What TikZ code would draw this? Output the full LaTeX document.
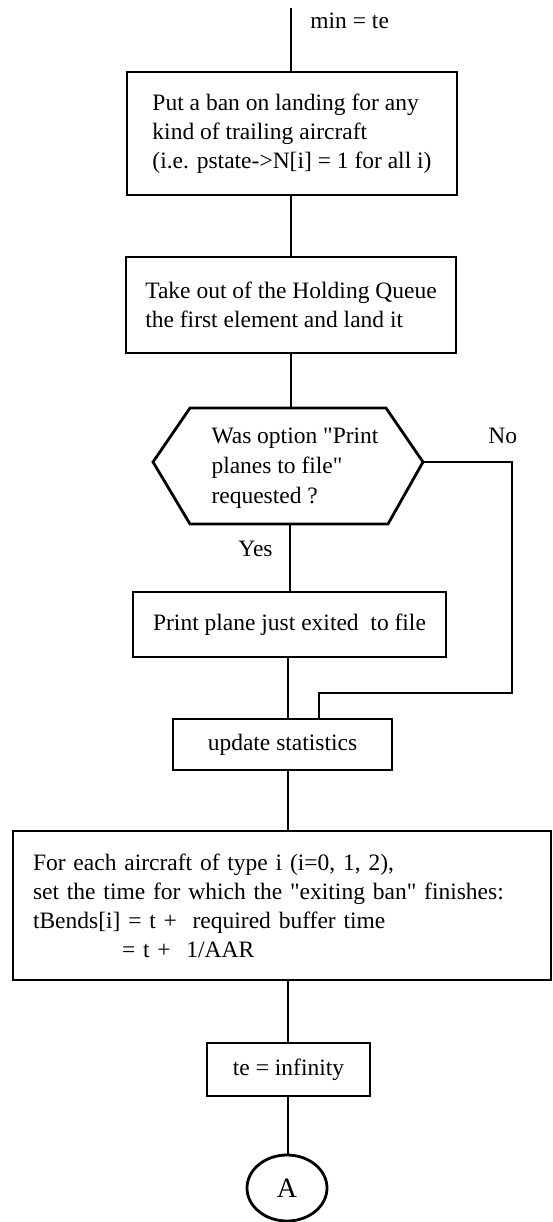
\documentclass[tikz,border=0pt]{standalone}
\usepackage{fontspec}
\setmainfont{Liberation Serif}[Ligatures=TeXOff]
\usetikzlibrary{shapes.geometric}
\begin{document}
\begin{tikzpicture}[x=1pt,y=-1pt,line width=2.8pt,
  box/.style={draw,rectangle,inner sep=0pt,align=left,font=\fontsize{23.5}{29}\selectfont},
  lbl/.style={inner sep=0pt,anchor=base west,font=\fontsize{23.5}{29}\selectfont},
  conn/.style={line width=2.8pt}]
\useasboundingbox (0,0) rectangle (552,1222);
% top
\coordinate (start) at (291,8);
\node[lbl] (mintxt) at (309,29) {min = te};
\node[box,minimum width=330pt,minimum height=123pt] (b1) at (292,133.5)
  {Put a ban on landing for any\\kind of trailing aircraft\\(i.e. pstate->N[i] = 1 for all i)};
\node[box,minimum width=330pt,minimum height=96pt] (b2) at (291,305)
  {Take out of the Holding Queue\\the first element and land it};
% decision hexagon
\coordinate (h1) at (190,408);
\coordinate (h2) at (386,408);
\coordinate (h3) at (423,462);
\coordinate (h4) at (388,524);
\coordinate (h5) at (190,524);
\coordinate (h6) at (153,462);
\draw (h1) -- (h2) -- (h3) -- (h4) -- (h5) -- (h6) -- cycle;
\node[inner sep=0pt,align=left,font=\fontsize{23.5}{30}\selectfont] (q) at (295,468)
  {Was option "Print\\planes to file"\\requested ?};
\node[lbl] (yes) at (237,556) {Yes};
\node[lbl] (no) at (487,443) {No};
\node[box,minimum width=313pt,minimum height=65pt] (b3) at (289.5,624.5)
  {Print plane just exited\ \ to file};
\node[box,minimum width=219pt,minimum height=51pt] (b4) at (282.5,744.5)
  {update statistics};
\node[box,minimum width=538pt,minimum height=149pt,text width=498pt,
  font=\fontsize{23.5}{29}\selectfont] (b5) at (282,905.5)
  {For each aircraft of type i (i=0, 1, 2),\\
   set the time for which the "exiting ban" finishes:\\
   tBends[i] = t +\ \ required buffer time\\
   \hspace*{89pt}= t +\ \ 1/AAR};
\node[box,minimum width=163pt,minimum height=53pt] (b6) at (288.5,1069.5)
  {te = infinity};
\node[draw,ellipse,minimum width=80pt,minimum height=66pt,inner sep=0pt,
  font=\fontsize{28}{30}\selectfont] (endA) at (287,1188) {A};
% connectors
\coordinate (LA) at (291,0);
\coordinate (LB) at (290,0);
\coordinate (LC) at (288,0);
\coordinate (nx) at (512,693);
\coordinate (noin) at (319,0);
\draw[conn] (start) -- (b1.north -| start);
\draw[conn] (b1.south -| LA) -- (b2.north -| LA);
\draw[conn] (b2.south -| LA) -- (h1 -| LA);
\draw[conn] (h5 -| LB) -- (b3.north -| LB);
\draw[conn] (b3.south -| LC) -- (b4.north -| LC);
\draw[conn] (b4.south -| LC) -- (b5.north -| LC);
\draw[conn] (b5.south -| LC) -- (b6.north -| LC);
\draw[conn] (b6.south -| LC) -- (endA.north -| LC);
\draw[conn] (h3) -| (nx) -| (b4.north -| noin);
\end{tikzpicture}
\end{document}
